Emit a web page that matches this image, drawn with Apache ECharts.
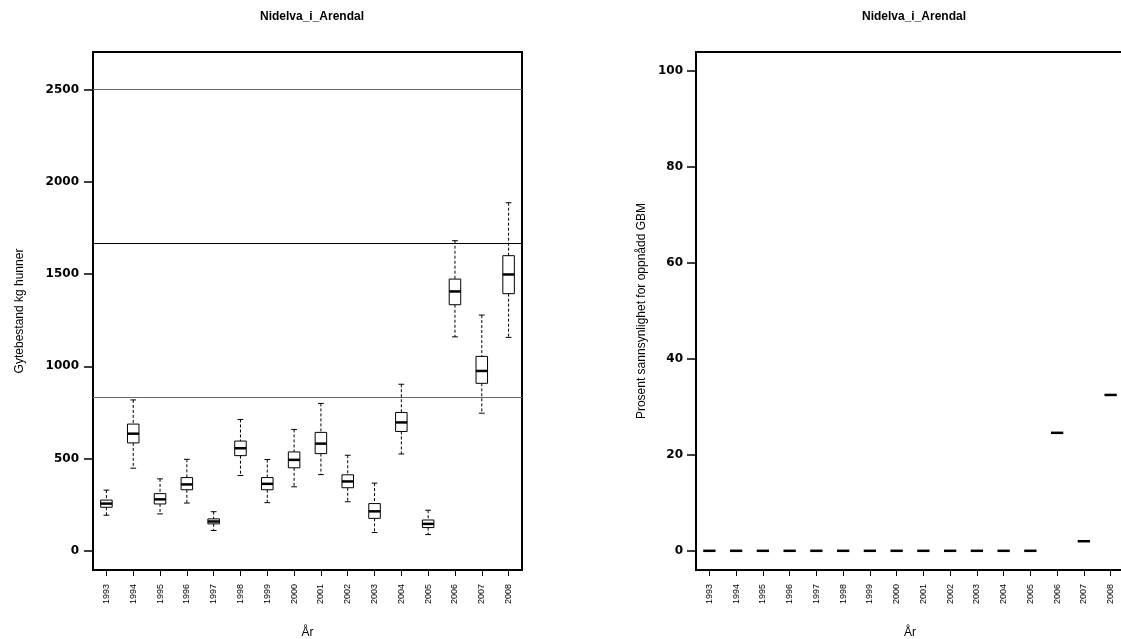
<!DOCTYPE html>
<html>
<head>
<meta charset="utf-8">
<script src="https://cdn.jsdelivr.net/npm/echarts@6/dist/echarts.min.js"></script>
<style>
html,body{margin:0;padding:0;background:#fff;}
#chart{width:1121px;height:639px;}
</style>
</head>
<body>
<div id="chart"></div>
<script>
// ---- data ----
const years = ['1993','1994','1995','1996','1997','1998','1999','2000','2001','2002','2003','2004','2005','2006','2007','2008'];
const whiskerLow  = [193,448,200,259,110,408,261,347,413,266, 99,525, 88,1160, 746,1157];
const boxQ1       = [236,585,254,331,146,516,331,450,527,342,176,647,126,1334, 908,1394];
const boxMedian   = [256,635,279,360,159,556,363,493,581,376,214,696,146,1406, 975,1498];
const boxQ3       = [275,687,310,397,173,595,397,536,642,412,256,750,167,1473,1054,1600];
const whiskerHigh = [329,818,390,496,212,712,495,658,799,518,367,903,220,1681,1278,1887];
const refLines = [2500, 1666.7, 833.3];
const refColors = ['#666666', '#000000', '#666666'];
const probGBM = [0,0,0,0,0,0,0,0,0,0,0,0,0,24.6,2.0,32.5];
const leftTicks = [0,500,1000,1500,2000,2500];
const rightTicks = [0,20,40,60,80,100];
const title = 'Nidelva_i_Arendal';
const leftYName = 'Gytebestand kg hunner';
const rightYName = 'Prosent sannsynlighet for oppnådd GBM';
const xName = 'År';

const boxData = years.map((y,i)=>[i, whiskerLow[i], boxQ1[i], boxMedian[i], boxQ3[i], whiskerHigh[i]]);
const probData = years.map((y,i)=>[i, probGBM[i]]);

const chart = echarts.init(document.getElementById('chart'), null, {renderer:'canvas'});

function renderBox(params, api){
  const x = api.value(0);
  const bw = api.size([1,0])[0]*0.43;
  const pLo = api.coord([x, api.value(1)]);
  const pQ1 = api.coord([x, api.value(2)]);
  const pMed = api.coord([x, api.value(3)]);
  const pQ3 = api.coord([x, api.value(4)]);
  const pHi = api.coord([x, api.value(5)]);
  const cx = pMed[0];
  const dash = {stroke:'#000', lineWidth:1, lineDash:[3,2]};
  const solid = {stroke:'#000', lineWidth:1};
  return {type:'group', children:[
    {type:'line', shape:{x1:cx,y1:pHi[1],x2:cx,y2:pQ3[1]}, style:dash},
    {type:'line', shape:{x1:cx,y1:pQ1[1],x2:cx,y2:pLo[1]}, style:dash},
    {type:'line', shape:{x1:cx-bw/4,y1:pHi[1],x2:cx+bw/4,y2:pHi[1]}, style:solid},
    {type:'line', shape:{x1:cx-bw/4,y1:pLo[1],x2:cx+bw/4,y2:pLo[1]}, style:solid},
    {type:'rect', shape:{x:cx-bw/2,y:pQ3[1],width:bw,height:pQ1[1]-pQ3[1]}, style:{fill:'#fff',stroke:'#000',lineWidth:1}},
    {type:'line', shape:{x1:cx-bw/2,y1:pMed[1],x2:cx+bw/2,y2:pMed[1]}, style:{stroke:'#000',lineWidth:2.5}}
  ]};
}
function renderDash(params, api){
  const x = api.value(0);
  const bw = api.size([1,0])[0]*0.46;
  const p = api.coord([x, api.value(1)]);
  return {type:'line', shape:{x1:p[0]-bw/2,y1:p[1],x2:p[0]+bw/2,y2:p[1]}, style:{stroke:'#000',lineWidth:2.5}};
}

const tickLabelStyle = {color:'#000', fontFamily:'DejaVu Sans', fontWeight:'bold', fontSize:12, formatter:(v)=>String(v)};
const xLabelStyle = {color:'#000', fontFamily:'Liberation Sans', fontSize:9, rotate:90, margin:14};
const nameStyle = {color:'#000', fontFamily:'Liberation Sans', fontSize:12};

function xAxisFor(gi){
  return {type:'category', gridIndex:gi, data:years, boundaryGap:true,
    axisLine:{show:false, onZero:false}, axisTick:{show:true, alignWithLabel:true, length:6, lineStyle:{color:'#000'}},
    axisLabel:Object.assign({interval:0}, xLabelStyle),
    splitLine:{show:false},
    name:xName, nameLocation:'middle', nameGap:57, nameTextStyle:nameStyle};
}

const option = {
  backgroundColor:'#fff',
  animation:false,
  title:[
    {text:title, left:307, top:6, textAlign:'center', textStyle:{fontFamily:'Liberation Sans', fontWeight:'bold', fontSize:12, color:'#000'}},
    {text:title, left:909, top:6, textAlign:'center', textStyle:{fontFamily:'Liberation Sans', fontWeight:'bold', fontSize:12, color:'#000'}}
  ],
  grid:[
    {left:93, top:52, width:429, height:518, show:true, borderColor:'#000', borderWidth:2, backgroundColor:'transparent', outerBoundsMode:'none', containLabel:false},
    {left:696, top:52, width:428, height:518, show:true, borderColor:'#000', borderWidth:2, backgroundColor:'transparent', outerBoundsMode:'none', containLabel:false}
  ],
  xAxis:[xAxisFor(0), xAxisFor(1)],
  yAxis:[
    {type:'value', gridIndex:0, min:-104, max:2704,
      axisLine:{show:false, onZero:false}, splitLine:{show:false},
      axisTick:{show:true, length:9, lineStyle:{color:'#000', width:1.5}, customValues:leftTicks},
      axisLabel:Object.assign({margin:14, customValues:leftTicks}, tickLabelStyle),
      name:leftYName, nameLocation:'middle', nameGap:67, nameRotate:90, nameTextStyle:nameStyle},
    {type:'value', gridIndex:1, min:-4, max:104,
      axisLine:{show:false, onZero:false}, splitLine:{show:false},
      axisTick:{show:true, length:9, lineStyle:{color:'#000', width:1.5}, customValues:rightTicks},
      axisLabel:Object.assign({margin:13, customValues:rightTicks}, tickLabelStyle),
      name:rightYName, nameLocation:'middle', nameGap:48, nameRotate:90, nameTextStyle:nameStyle}
  ],
  series:[
    {type:'line', xAxisIndex:0, yAxisIndex:0, data:[], silent:true,
      markLine:{silent:true, symbol:'none', label:{show:false}, animation:false,
        data: refLines.map((v,i)=>({yAxis:v, lineStyle:{color:refColors[i], width:1, type:'solid'}}))}},
    {type:'custom', xAxisIndex:0, yAxisIndex:0, data:boxData, renderItem:renderBox,
      encode:{x:0, y:[1,2,3,4,5]}, silent:true, clip:false, z:5},
    {type:'custom', xAxisIndex:1, yAxisIndex:1, data:probData, renderItem:renderDash,
      encode:{x:0, y:1}, silent:true, clip:false, z:5}
  ]
};
chart.setOption(option);
</script>
</body>
</html>
